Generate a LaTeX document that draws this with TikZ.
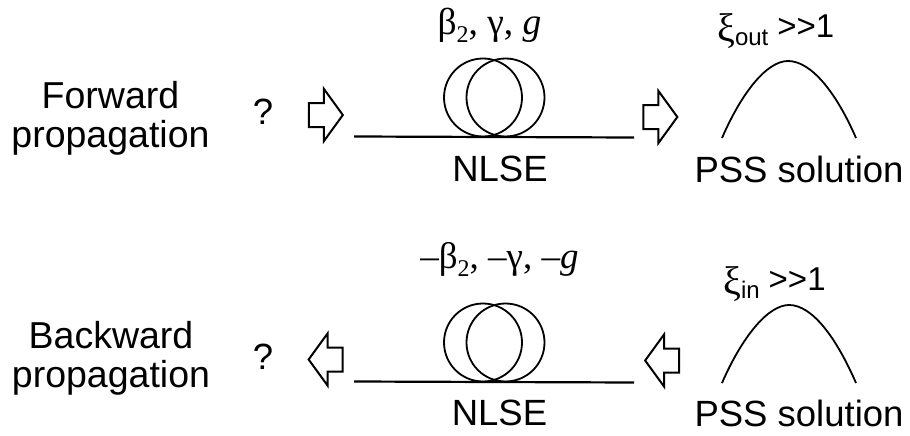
\documentclass[tikz,border=0pt]{standalone}
\usepackage{fontspec}
\setmainfont{Liberation Sans}
\newfontfamily\greekfont{Liberation Serif}
\usetikzlibrary{shapes.arrows, positioning}
\newcommand{\wordsize}{\fontsize{37.5}{39}\selectfont}
\newcommand{\bodysize}{\fontsize{36.5}{43}\selectfont}
\newcommand{\xisize}{\fontsize{33}{36}\selectfont}
\newcommand{\lowsub}[1]{\raisebox{-8pt}{\fontsize{24}{24}\selectfont #1}}
\newcommand{\bigxi}{\raisebox{-4pt}{\greekfont\fontsize{40}{40}\selectfont ξ}}

\begin{document}
\begin{tikzpicture}[
        x=1pt, y=-1pt,
        word/.style={inner sep=0pt, anchor=base, align=center, font=\wordsize},
        label/.style={inner sep=0pt, anchor=base, font=\bodysize},
        para/.style={inner sep=0pt, anchor=base, font=\fontsize{#1}{40}\selectfont\greekfont},
        xilabel/.style={inner sep=0pt, anchor=base west, font=\xisize},
        hollow/.style={draw=black, line width=2pt, fill=white, single arrow, inner sep=0pt, text height=22pt, text depth=0pt, text width=0pt, minimum height=34pt, single arrow head extend=14pt, single arrow head indent=0pt, single arrow tip angle=108, miter limit=4},
        fiber/.style={draw=black, line width=2.2pt},
        loop/.style={circle, draw=black, line width=1.8pt, minimum size=78pt, inner sep=0pt},
        pulse/.style={line width=1.8pt}
    ]
        \useasboundingbox (0,0) rectangle (910,436);

        % top row
        \node[word] (fwd) at (110.5,147) {Forward\\propagation};
        \node[label] (qtop) at (263,124) {?};
        \node[hollow] (intop) at (321.5,115) {};
        \coordinate (fibAtop) at (354,136.5);
        \coordinate (fibBtop) at (634,137.5);
        \node[loop] (ringAtop) at (483,97.5) {};
        \node[loop] (ringBtop) at (505.5,97.5) {};
        \draw[fiber] (fibAtop) -- (fibBtop);
        \node[para=37.5] (partop) at (489.5,35) {β\lowsub{2}, γ, \textit{g}};
        \node[label] (nlsetop) at (500,181) {NLSE};
        \node[hollow] (outtop) at (656,117) {};
        \node[xilabel] (xitop) at (717,38) {\bigxi\lowsub{out}\hspace{9pt}>{}>1};
        \coordinate (pulAtop) at (722,138);
        \coordinate (pulPtop) at (788,61);
        \coordinate (pulBtop) at (856,138);
        \draw[pulse] (pulAtop) .. controls (742,92) and (767,61) .. (pulPtop) .. controls (811,61) and (836,92) .. (pulBtop);
        \node[label] (psstop) at (799,182) {PSS solution};

        % bottom row
        \node[word] (bwd) at (111,387) {Backward\\propagation};
        \node[label] (qbot) at (263,369) {?};
        \node[hollow, shape border rotate=180] (outbot) at (330,359.5) {};
        \coordinate (fibAbot) at (354,381.5);
        \coordinate (fibBbot) at (634,382.5);
        \node[loop] (ringAbot) at (483,342.5) {};
        \node[loop] (ringBbot) at (505.5,342.5) {};
        \draw[fiber] (fibAbot) -- (fibBbot);
        \node[para=37] (parbot) at (499.5,268) {–β\lowsub{2}, –γ, –\textit{g}};
        \node[label] (nlsebot) at (499.5,425) {NLSE};
        \node[hollow, shape border rotate=180] (inbot) at (666.5,360.5) {};
        \node[xilabel] (xibot) at (723,290) {\bigxi\lowsub{in}\hspace{9pt}>{}>1};
        \coordinate (pulAbot) at (722,383);
        \coordinate (pulPbot) at (789,305);
        \coordinate (pulBbot) at (856,383);
        \draw[pulse] (pulAbot) .. controls (742,337) and (768,305) .. (pulPbot) .. controls (812,305) and (836,337) .. (pulBbot);
        \node[label] (pssbot) at (799,426) {PSS solution};
    \end{tikzpicture}
\end{document}
